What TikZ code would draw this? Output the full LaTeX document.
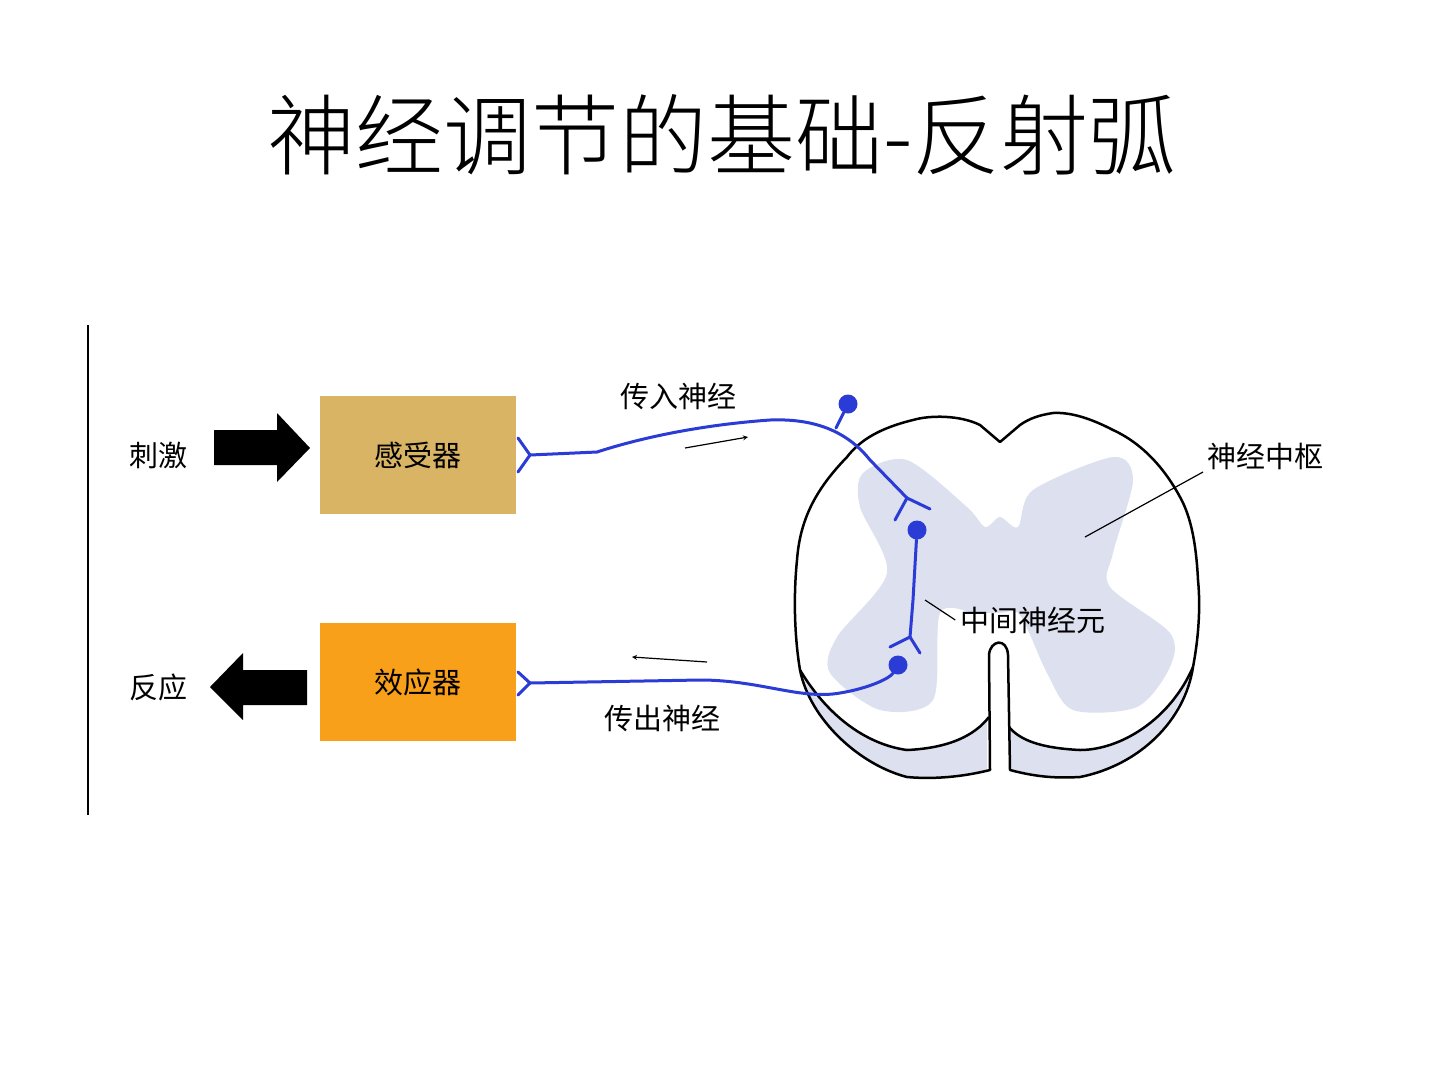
\documentclass[tikz,border=0pt]{standalone}
\usepackage{fontspec}
\setmainfont{Noto Sans CJK SC}
\newfontfamily\titlefont{Noto Sans CJK SC Light}
\begin{document}
\begin{tikzpicture}[x=1pt,y=-1pt,
  lbl/.style={inner sep=0pt,font=\fontsize{29}{32}\selectfont},
  box/.style={minimum width=196pt,minimum height=118pt,inner sep=0pt,font=\fontsize{29}{32}\selectfont},
  nerve/.style={draw=nv,line width=3pt,line cap=round},
  dot/.style={circle,fill=nv,inner sep=0pt,minimum size=19pt},
  thin/.style={draw=black,line width=1.2pt}]
\useasboundingbox (0,0) rectangle (1440,1080);
\definecolor{gm}{HTML}{DDE0EE}
\definecolor{nv}{HTML}{2B3BD6}
\node[inner sep=0pt,font=\titlefont\fontsize{88}{96}\selectfont] (title) at (722,135) {神经调节的基础-反射弧};
\draw[line width=2pt] (88,325) coordinate (v1) -- (88,815) coordinate (v2);
\node[box,fill={rgb,255:red,216;green,180;blue,100}] (rec) at (418,455) {感受器};
\node[box,fill={rgb,255:red,249;green,160;blue,26}] (eff) at (418,682) {效应器};
\node[lbl] (stim) at (158,455) {刺激};
\node[lbl] (resp) at (158,687) {反应};
\fill (214,430) -- (277,430) -- (277,413) -- (310,448) -- (277,482) -- (277,465) -- (214,465) -- cycle;
\fill (307,670) -- (243,670) -- (243,653) -- (210,687) -- (243,720) -- (243,705) -- (307,705) -- cycle;
% spinal cord bands
\fill[gm] (800,670) .. controls (830,720) and (870,745) .. (907,750) .. controls (950,748) and (975,735) .. (987,717) -- (987,770) .. controls (950,778) and (920,778) .. (907,777) .. controls (860,765) and (810,720) .. (800,670) -- cycle;
\fill[gm] (1193,667) .. controls (1170,720) and (1120,750) .. (1080,750) .. controls (1040,748) and (1020,740) .. (1010,727) -- (1010,770) .. controls (1040,778) and (1060,778) .. (1080,777) .. controls (1140,765) and (1180,720) .. (1193,667) -- cycle;
% butterfly
\fill[gm] plot[smooth cycle,tension=0.5] coordinates {(863,473) (907,460) (967,507) (985,527) (1000,517) (1018,527) (1033,490) (1113,457) (1133,480) (1113,553) (1110,587) (1170,633) (1170,667) (1137,707) (1073,710) (1047,673) (1020,615) (1000,613) (975,613) (940,613) (933,700) (880,710) (830,673) (837,637) (887,573) (860,507)};
\fill[white] (1000,640) circle (11);
% outline
\draw[line width=2.5pt,line join=round] (1000,442) -- (980,425) .. controls (960,415) and (930,415) .. (913,420) .. controls (880,428) and (860,440) .. (847,457) .. controls (815,490) and (800,520) .. (797,560) .. controls (793,600) and (795,640) .. (800,670) .. controls (810,720) and (860,765) .. (907,777) .. controls (940,780) and (970,775) .. (990,770) -- (989,655) .. controls (990,640) and (1007,637) .. (1008,655) -- (1010,770) .. controls (1040,778) and (1060,778) .. (1080,777) .. controls (1140,765) and (1185,720) .. (1193,667) .. controls (1200,630) and (1200,600) .. (1198,580) .. controls (1196,540) and (1190,515) .. (1180,497) .. controls (1160,460) and (1135,440) .. (1113,430) .. controls (1090,418) and (1070,412) .. (1053,413) .. controls (1040,415) and (1030,418) .. (1020,425) -- cycle;
\draw[line width=2.5pt] (800,670) .. controls (830,720) and (870,745) .. (907,750) .. controls (950,748) and (975,735) .. (989,717);
\draw[line width=2.5pt] (1193,667) .. controls (1170,720) and (1120,750) .. (1080,750) .. controls (1040,748) and (1020,740) .. (1009,727);
% neurons
\node[dot] (d1) at (848,404) {};
\node[dot] (d2) at (917,530) {};
\node[dot] (d3) at (898,665) {};
\coordinate (a0) at (530,455);
\coordinate (f1) at (907,498);
\draw[nerve] (518,438) -- (a0) -- (518,472);
\draw[nerve] (a0) -- (597,452) .. controls (640,438) and (700,425) .. (770,420) .. controls (820,418) and (850,435) .. (870,460) -- (f1);
\draw[nerve] (836,428) -- (d1);
\draw[nerve] (930,509) -- (f1) -- (895,520);
\coordinate (f2) at (910,637);
\draw[nerve] (d2) -- (913,600) -- (f2);
\draw[nerve] (890,647) -- (f2) -- (920,653);
\coordinate (b0) at (530,683);
\draw[nerve] (518,672) -- (b0) -- (518,695);
\draw[nerve] (b0) -- (700,680) .. controls (760,680) and (800,700) .. (840,693) .. controls (870,688) and (890,678) .. (d3);
% labels
\node[lbl] (aff) at (678,396) {传入神经};
\node[lbl] (efft) at (662,718) {传出神经};
\node[lbl] (center) at (1265,456) {神经中枢};
\node[lbl] (inter) at (1033,620) {中间神经元};
\draw[thin] (1085,537) -- (1203,472);
\draw[thin] (925,600) -- ([xshift=-5pt]inter.west);
\coordinate (ar1) at (685,448); \coordinate (ar2) at (748,437);
\draw[thin,-stealth] (ar1) -- (ar2);
\coordinate (ar3) at (707,662); \coordinate (ar4) at (632,657);
\draw[thin,-stealth] (ar3) -- (ar4);
\end{tikzpicture}
\end{document}
